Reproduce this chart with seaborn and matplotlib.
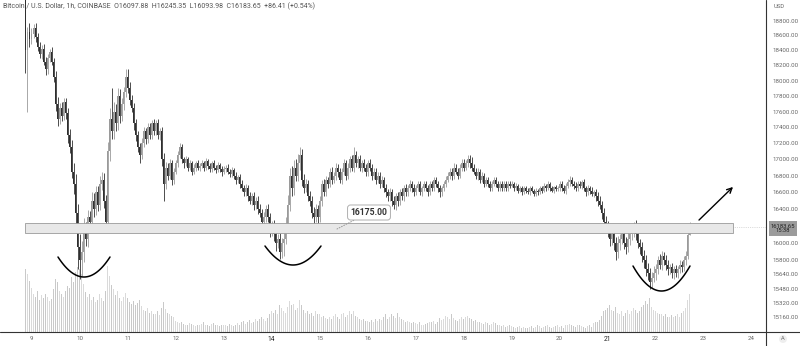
import numpy as np
import pandas as pd
import seaborn as sns
import matplotlib.pyplot as plt
from matplotlib.patches import Rectangle

# --- data (hourly candles, hour 0 = Nov 9 00:00) ---
start_hour = -3
first_open = 19150

closes = [
    18400, 18650, 18550,  # Nov 8
    18620, 18700, 18580, 18450, 18350, 18420, 18250, 18150, 18300, 18380, 18250, 18050,
    17700, 17500, 17650, 17550, 17720, 17580, 17300, 17150, 16850, 16700, 16350, 15950,  # 9
    15800, 15900, 16150, 16050, 16300, 16250, 16500, 16400, 16600, 16450, 16700, 16750,
    16500, 16250, 17100, 17500, 17350, 17600, 17450, 17800, 17550, 17700, 17850, 18050,  # 10
    17900, 17750, 17650, 17450, 17300, 17150, 17050, 17200, 17350, 17250, 17400, 17300,
    17450, 17350, 17450, 17300, 17350, 17000, 16700, 16900, 16800, 16950, 16750, 16850,  # 11
    16950, 17050, 17150, 17000, 16950, 17000, 16900, 16950, 16850, 16900, 16950, 16900,
    16920, 16950, 16900, 16980, 16920, 16880, 16950, 16900, 16870, 16930, 16880, 16850,  # 12
    16880, 16900, 16850, 16820, 16870, 16800, 16750, 16780, 16700, 16650, 16600, 16650,
    16550, 16500, 16550, 16450, 16500, 16400, 16350, 16250, 16300, 16400, 16300, 16150,  # 13
    16200, 16100, 16000, 16050, 15900, 16000, 16050, 16200, 16450, 16800, 16650, 16900,
    16800, 16950, 17050, 16750, 16650, 16700, 16550, 16500, 16350, 16300, 16400, 16300,  # 14
    16500, 16700, 16600, 16750, 16700, 16850, 16750, 16800, 16900, 16850, 16750, 16850,
    16950, 16800, 16900, 17000, 16900, 17050, 16950, 17000, 16900, 16950, 16900, 16850,  # 15
    16950, 16900, 16800, 16850, 16750, 16800, 16700, 16750, 16650, 16600, 16550, 16600,
    16500, 16450, 16550, 16500, 16600, 16550, 16650, 16600, 16650, 16700, 16650, 16600,  # 16
    16650, 16700, 16600, 16650, 16700, 16650, 16600, 16700, 16650, 16750, 16700, 16650,
    16600, 16650, 16700, 16750, 16800, 16850, 16800, 16900, 16850, 16800, 16900, 16950,  # 17
    16900, 16950, 17000, 16950, 16900, 16850, 16800, 16850, 16750, 16800, 16700, 16750,
    16700, 16650, 16700, 16750, 16700, 16650, 16700, 16650, 16700, 16650, 16700, 16680,  # 18
    16700, 16650, 16680, 16620, 16650, 16600, 16650, 16620, 16600, 16650, 16620, 16580,
    16620, 16600, 16650, 16620, 16680, 16650, 16700, 16650, 16620, 16660, 16640, 16650,  # 19
    16700, 16650, 16620, 16680, 16720, 16750, 16700, 16680, 16650, 16700, 16680, 16720,
    16650, 16600, 16650, 16620, 16580, 16600, 16550, 16500, 16450, 16350, 16250, 16200,  # 20
    16150, 16050, 16100, 16000, 15900, 16000, 16050, 16100, 16000, 15950, 16050, 16100,
    16150, 16200, 16100, 16000, 15950, 15850, 15800, 15700, 15650, 15550, 15600, 15650,  # 21
    15700, 15800, 15750, 15850, 15800, 15750, 15700, 15720, 15650, 15700, 15650, 15700,
    15750, 15720, 15800, 15850, 16097.88, 16183.65,  # 22
]

wick_hi = [
    150, 60, 120,
    80, 60, 70, 50, 60, 50, 70, 60, 50, 40, 60, 50, 80, 90, 60, 70, 50, 60, 70, 80, 90, 100, 120, 110,
    150, 120, 140, 100, 90, 80, 100, 90, 80, 70, 100, 100, 80, 70, 120, 150, 400, 120, 100, 100, 90, 80, 70, 100,
    100, 80, 70, 60, 60, 50, 60, 70, 50, 40, 50, 60, 40, 50, 40, 50, 40, 60, 80, 70, 60, 50, 40, 50,
    40, 50, 60, 40, 30, 40, 30, 40, 30, 40, 30, 40, 30, 40, 30, 40, 30, 40, 30, 40, 30, 40, 30, 40,
    40, 30, 40, 30, 40, 30, 40, 30, 40, 50, 40, 50, 40, 50, 40, 50, 40, 50, 60, 50, 60, 50, 60, 50,
    60, 70, 50, 60, 70, 60, 80, 100, 120, 100, 120, 90, 100, 120, 100, 80, 70, 60, 50, 60, 50, 70, 60, 50,
    60, 50, 60, 50, 40, 50, 60, 40, 50, 40, 50, 40, 50, 40, 50, 40, 50, 100, 50, 40, 50, 40, 50, 40,
    40, 50, 40, 50, 40, 50, 40, 50, 40, 50, 40, 50, 40, 50, 40, 50, 40, 50, 40, 50, 40, 50, 40, 50,
    40, 30, 40, 30, 40, 30, 40, 30, 40, 30, 40, 30, 40, 30, 40, 50, 40, 50, 40, 50, 40, 50, 40, 50,
    50, 40, 60, 50, 80, 40, 50, 40, 30, 40, 30, 40, 30, 40, 30, 40, 30, 40, 30, 40, 30, 40, 30, 40,
    30, 20, 30, 20, 30, 20, 30, 20, 30, 20, 30, 20, 30, 20, 30, 20, 30, 20, 30, 20, 30, 20, 30, 20,
    40, 30, 40, 30, 40, 50, 40, 30, 40, 30, 40, 30, 40, 30, 40, 30, 40, 30, 40, 50, 60, 50, 60, 70,
    60, 70, 80, 60, 70, 80, 60, 70, 60, 70, 80, 70, 60, 50, 70, 60, 50, 60, 70, 60, 70, 60, 70, 80,
    60, 50, 70, 60, 50, 60, 50, 40, 50, 40, 50, 40, 50, 40, 50, 60, 50, 61.7,
]

wick_lo = [
    300, 800, 100,
    60, 50, 70, 60, 50, 60, 50, 70, 60, 50, 40, 70, 90, 80, 60, 70, 60, 80, 90, 70, 80, 120, 150, 250,
    210, 180, 120, 90, 100, 80, 70, 90, 70, 80, 60, 70, 90, 100, 80, 120, 100, 90, 100, 80, 90, 70, 80, 60,
    60, 70, 60, 80, 70, 60, 90, 50, 40, 60, 50, 40, 50, 40, 50, 40, 60, 80, 200, 60, 50, 40, 60, 50,
    30, 40, 30, 40, 50, 30, 40, 30, 40, 30, 40, 30, 40, 30, 40, 30, 40, 30, 40, 30, 40, 30, 40, 50,
    30, 40, 30, 40, 30, 40, 50, 40, 50, 40, 50, 40, 50, 40, 50, 60, 50, 60, 50, 70, 60, 50, 60, 80,
    70, 80, 90, 60, 80, 70, 150, 60, 80, 70, 90, 80, 70, 60, 80, 70, 60, 50, 60, 70, 60, 100, 60, 120,
    50, 60, 50, 40, 50, 40, 50, 40, 50, 60, 40, 50, 40, 50, 40, 50, 40, 50, 40, 50, 40, 50, 40, 50,
    50, 40, 50, 40, 50, 40, 50, 40, 50, 60, 50, 60, 70, 50, 60, 70, 50, 40, 50, 40, 50, 40, 50, 40,
    30, 40, 30, 40, 30, 40, 50, 30, 40, 30, 40, 50, 60, 40, 30, 40, 30, 40, 50, 40, 30, 40, 30, 40,
    40, 30, 40, 50, 40, 30, 40, 50, 40, 30, 40, 30, 40, 30, 40, 30, 40, 30, 40, 30, 40, 30, 40, 30,
    20, 30, 20, 30, 20, 30, 20, 30, 20, 30, 20, 30, 20, 30, 20, 30, 20, 30, 20, 30, 20, 30, 20, 30,
    30, 40, 30, 40, 30, 40, 30, 40, 30, 40, 30, 40, 30, 40, 30, 40, 30, 40, 50, 60, 50, 70, 80, 60,
    80, 90, 70, 80, 100, 70, 80, 60, 70, 80, 60, 70, 60, 80, 70, 60, 80, 70, 90, 80, 70, 70, 60, 50,
    70, 60, 50, 60, 50, 60, 70, 60, 50, 60, 40, 50, 40, 50, 40, 50, 40, 3.9,
]

volumes = [
    8500, 7800, 6900,
    6000, 5200, 4800, 5500, 4300, 5000, 4600, 5200, 4800, 4200, 4500, 5800,
    7200, 6800, 5600, 5200, 4800, 5500, 6200, 5900, 7400, 6800, 8200, 8800,
    8600, 7900, 6500, 5400, 4800, 5200, 4300, 4700, 4000, 4400, 5100, 4600,
    4200, 5600, 8900, 7600, 6400, 5800, 5000, 5600, 4600, 4200, 4800, 5300,
    4600, 4100, 3800, 4200, 3600, 3900, 4400, 3500, 3000, 2800, 3200, 2600,
    2900, 2500, 2400, 2800, 2300, 3200, 4000, 3100, 2600, 2400, 2200, 2000,
    1500, 1300, 1200, 1400, 1100, 900, 1000, 1200, 1100, 900, 800, 1000,
    900, 1100, 1300, 1000, 900, 800, 1100, 1200, 1000, 900, 800, 900,
    1000, 900, 800, 1100, 900, 800, 1000, 1200, 1000, 1300, 1500, 1100,
    1400, 1600, 1200, 1300, 1800, 1500, 1700, 2000, 1800, 1500, 1900, 2400,
    2800, 2600, 3000, 2400, 3600, 3200, 2800, 2600, 3400, 4200, 3600, 3800,
    3000, 3300, 4400, 3600, 3000, 2600, 2800, 2400, 2600, 2200, 2900, 2500,
    2400, 2100, 2200, 1900, 1800, 2000, 1700, 2200, 2500, 2100, 1800, 2400,
    2600, 2000, 2300, 2800, 2400, 2900, 2200, 2000, 1800, 1600, 1700, 1500,
    1500, 1400, 1600, 1300, 1800, 1500, 1700, 1600, 2000, 2400, 1800, 2100,
    2500, 2200, 1900, 2600, 2000, 1800, 1600, 1400, 1500, 1300, 1200, 1400,
    1200, 1100, 1300, 1000, 900, 1100, 1200, 1400, 1300, 1500, 1100, 1400,
    1900, 1600, 1700, 2200, 2000, 1800, 2400, 1900, 1600, 1500, 1700, 2100,
    1800, 2000, 2200, 1900, 1700, 1500, 1600, 1400, 1300, 1200, 1100, 1300,
    1200, 1000, 1100, 1300, 1200, 1000, 900, 800, 900, 700, 800, 900,
    800, 700, 600, 700, 800, 600, 700, 500, 600, 700, 800, 600,
    700, 900, 800, 600, 700, 800, 900, 700, 600, 700, 800, 900,
    700, 800, 600, 900, 1000, 1100, 900, 800, 700, 900, 1000, 800,
    700, 600, 800, 900, 700, 1200, 1400, 1300, 1600, 2200, 2800, 3000,
    3200, 3600, 3000, 2800, 3400, 2600, 2400, 2800, 2200, 2600, 3000, 2400,
    2800, 3200, 3000, 2600, 2800, 3400, 3600, 4200, 3800, 4600, 3400, 3000,
    2800, 2600, 2400, 2500, 2200, 2400, 2000, 2100, 2300, 2000, 2200, 2400,
    2100, 2600, 2800, 3200, 4400, 5200,
]

day_labels = ['9', '10', '11', '12', '13', '14', '15', '16', '17', '18', '19', '20', '21', '22', '23', '24']
price_ticks = [18800, 18600, 18400, 18200, 18000, 17800, 17600, 17400, 17200, 17000,
               16800, 16600, 16400, 16000, 15800, 15640, 15480, 15320, 15160]
zone_low, zone_high = 16120, 16230
zone_label = '16175.00'
header = ('Bitcoin / U.S. Dollar, 1h, COINBASE  O16097.88  H16245.35  L16093.98  '
          'C16183.65  +86.41 (+0.54%)')

assert len(closes) == len(wick_hi) == len(wick_lo) == len(volumes), \
    (len(closes), len(wick_hi), len(wick_lo), len(volumes))

# --- table ---
df = pd.DataFrame({'close': closes, 'volume': volumes})
df['hour'] = np.arange(len(df)) + start_hour
df['open'] = [first_open] + closes[:-1]
df['high'] = df[['open', 'close']].max(axis=1) + np.array(wick_hi)
df['low'] = df[['open', 'close']].min(axis=1) - np.array(wick_lo)
df['dir'] = np.where(df['close'] >= df['open'], 'up', 'down')

UP, DOWN = '#9a9a9a', '#2f2f2f'

sns.set_theme(style='white')
plt.rcParams['font.family'] = ['Roboto', 'DejaVu Sans']

fig = plt.figure(figsize=(8, 3.46), dpi=100)
ax = fig.add_axes([0, 14 / 346, 766 / 800, 332 / 346])
axv = ax.twinx()

# volume (background pane)
vol_colors = np.where(df['dir'] == 'up', '#dadada', '#c9c9c9')
axv.bar(df['hour'], df['volume'], width=0.4, color=vol_colors, lw=0)
axv.set_ylim(0, 45000)
axv.set_yticks([])
for s in axv.spines.values():
    s.set_visible(False)

ax.set_zorder(axv.get_zorder() + 1)
ax.patch.set_visible(False)

# candles
colors = np.where(df['dir'] == 'up', UP, DOWN)
ax.vlines(df['hour'], df['low'], df['high'], colors=colors, lw=0.6)
ax.bar(df['hour'], (df['close'] - df['open']).abs().clip(lower=6),
       bottom=df[['open', 'close']].min(axis=1), width=0.8, color=colors, lw=0)

ax.set_yscale('log')
ax.set_ylim(14999, 19085)
ax.set_xlim(-15.75, 367.25)
ax.minorticks_off()
ax.yaxis.tick_right()
ax.set_yticks(price_ticks)
ax.set_yticklabels([f'{p:.2f}' for p in price_ticks])
ax.set_xticks(np.arange(len(day_labels)) * 24)
ax.set_xticklabels(day_labels)
ax.tick_params(axis='both', length=0, labelsize=4.4, labelcolor='#666666')
ax.tick_params(axis='y', pad=5)
ax.tick_params(axis='x', pad=3)
for lab in ax.get_xticklabels():
    if lab.get_text() in ('14', '21'):
        lab.set_color('#222222')
        lab.set_fontsize(4.8)
for s in ax.spines.values():
    s.set_visible(False)
ax.grid(False)

# support zone
ax.add_patch(Rectangle((-3.25, zone_low), 354, zone_high - zone_low,
                       facecolor='#e8e8e8', edgecolor='#9a9a9a', lw=0.6, zorder=3))
ax.annotate(zone_label, xy=(337, 346 - 229), xycoords='figure pixels',
            xytext=(369, 346 - 212.5), textcoords='figure pixels',
            ha='center', va='center', fontsize=6.2, fontweight='bold', color='#333333',
            bbox=dict(boxstyle='round,pad=0.35', fc='white', ec='#b0b0b0', lw=0.7),
            arrowprops=dict(arrowstyle='-', ls=':', color='#999999', lw=0.7, shrinkA=0, shrinkB=0),
            zorder=6)

# hand-drawn style annotations (figure pixels)
def smile(x0, x1, y_end, y_bot):
    xs = np.linspace(x0, x1, 80)
    t = (xs - (x0 + x1) / 2) / ((x1 - x0) / 2)
    ys = y_bot - (y_bot - y_end) * t ** 2
    fig.add_artist(plt.Line2D(xs / 800, 1 - ys / 346, color='black', lw=1.1))

smile(58, 110, 257, 277)
smile(265, 321, 246, 265)
smile(633, 690, 266, 291)
ax.annotate('', xy=(735, 346 - 185), xycoords='figure pixels',
            xytext=(697, 346 - 222), textcoords='figure pixels',
            arrowprops=dict(arrowstyle='->', color='black', lw=1.0, mutation_scale=9))

# last price line and tag
last = closes[-1]
ax.axhline(last, xmin=733 / 766, xmax=1, color='#bbbbbb', lw=0.5, ls=':')
fig.text(783, 346 - 228.5, f'{last:.2f}\n15:38', transform=None, ha='center', va='center',
         fontsize=4.2, color='#202020', linespacing=1.0,
         bbox=dict(boxstyle='square,pad=0.35', fc='#9b9b9b', ec='none'))

# frame lines like the platform panes
fig.add_artist(plt.Line2D([766 / 800, 766 / 800], [0, 1], color='#333333', lw=0.8))
fig.add_artist(plt.Line2D([0, 1], [14 / 346, 14 / 346], color='#333333', lw=0.8))

fig.text(3, 346 - 6, header, transform=None, ha='left', va='center', fontsize=5.0, color='#555555')
fig.text(774, 346 - 6, 'USD', transform=None, ha='left', va='center', fontsize=4.2, color='#666666')
fig.text(783, 346 - 339, 'A', transform=None, ha='center', va='center', fontsize=4.2, color='#777777',
         bbox=dict(boxstyle='circle,pad=0.25', fc='#eeeeee', ec='none'))

fig.savefig('out.png', dpi=100, facecolor='white')
